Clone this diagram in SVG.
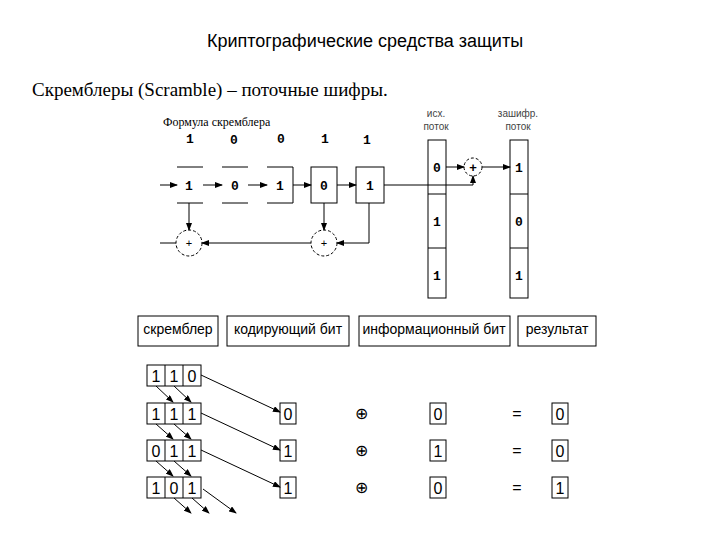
<svg xmlns="http://www.w3.org/2000/svg" width="720" height="540" viewBox="0 0 720 540">
<defs><marker id="a" markerWidth="8" markerHeight="6" refX="7" refY="3" orient="auto" markerUnits="userSpaceOnUse"><path d="M0,0L8,3L0,6z" fill="#000"/></marker></defs>
<style>
text{font-family:"Liberation Sans",Arial,sans-serif;fill:#000}
.m{font-family:"Liberation Mono","DejaVu Sans Mono",monospace;font-size:13px;font-weight:bold;text-anchor:middle}
.s{font-size:10px;text-anchor:middle;fill:#444}
.b{fill:none;stroke:#000;stroke-width:1}
.d{fill:#fff;stroke:#000;stroke-dasharray:3,2}
.c{fill:none;stroke:#000;stroke-width:1}
.ca{fill:none;stroke:#000;stroke-width:1;marker-end:url(#a)}
.h{font-size:14px;text-anchor:middle}
.t{font-size:16px;text-anchor:middle}
</style>
<rect width="720" height="540" fill="#fff"/>
<text x="365" y="47" font-size="18" text-anchor="middle">Криптографические средства защиты</text>
<text x="32" y="96" font-size="19" style="font-family:'Liberation Serif',serif">Скремблеры (Scramble) – поточные шифры.</text>
<text x="163" y="126" font-size="12" style="font-family:'Liberation Serif',serif">Формула скремблера</text>
<g id="top-bits"><text class="m" x="190" y="143">1</text><text class="m" x="234" y="144">0</text><text class="m" x="281" y="143">0</text><text class="m" x="325" y="143">1</text><text class="m" x="367" y="144">1</text></g>
<g id="registers">
<line class="b" x1="177" y1="167" x2="203" y2="167"/><line class="b" x1="177" y1="203" x2="203" y2="203"/><text class="m" x="189" y="190">1</text>
<line class="b" x1="222" y1="167" x2="248" y2="167"/><line class="b" x1="222" y1="203" x2="248" y2="203"/><text class="m" x="235" y="190">0</text>
<path class="b" d="M267,167H293V203H267"/><text class="m" x="280" y="190">1</text>
<rect class="b" x="311" y="167" width="26" height="36"/><text class="m" x="324" y="190">0</text>
<rect class="b" x="356" y="167" width="28" height="36"/><text class="m" x="370" y="190">1</text>
</g>
<g id="xor-a"><circle class="d" cx="189" cy="243" r="13"/><text x="189" y="247" font-size="11" text-anchor="middle">+</text></g>
<g id="xor-b"><circle class="d" cx="324" cy="243" r="13"/><text x="324" y="247" font-size="11" text-anchor="middle">+</text></g>
<g id="xor-c"><circle class="d" cx="473" cy="167" r="9"/><text x="473" y="172" font-size="13" font-weight="bold" text-anchor="middle">+</text></g>
<g id="src"><text class="s" x="436" y="117">исх.</text><text class="s" x="436" y="130">поток</text>
<rect class="b" x="428" y="140" width="18" height="158"/><line class="b" x1="428" y1="194" x2="446" y2="194"/><line class="b" x1="428" y1="248" x2="446" y2="248"/>
<text class="m" x="437" y="172">0</text><text class="m" x="437" y="226">1</text><text class="m" x="437" y="280">1</text></g>
<g id="dst"><text class="s" x="518" y="117">зашифр.</text><text class="s" x="518" y="130">поток</text>
<rect class="b" x="510" y="140" width="18" height="158"/><line class="b" x1="510" y1="194" x2="528" y2="194"/><line class="b" x1="510" y1="248" x2="528" y2="248"/>
<text class="m" x="519" y="172">1</text><text class="m" x="519" y="226">0</text><text class="m" x="519" y="280">1</text></g>
<g id="connectors">
<line class="ca" x1="160" y1="185" x2="177" y2="185"/>
<line class="ca" x1="203" y1="185" x2="222" y2="185"/>
<line class="ca" x1="248" y1="185" x2="267" y2="185"/>
<line class="ca" x1="293" y1="185" x2="311" y2="185"/>
<line class="ca" x1="337" y1="185" x2="356" y2="185"/>
<path class="ca" d="M384,185H473V176"/>
<line class="ca" x1="446" y1="167" x2="464" y2="167"/>
<line class="ca" x1="482" y1="167" x2="510" y2="167"/>
<line class="c" x1="160" y1="243" x2="176" y2="243"/>
<line class="ca" x1="189" y1="203" x2="189" y2="230"/>
<line class="ca" x1="324" y1="203" x2="324" y2="230"/>
<path class="ca" d="M369,203V243H337"/>
<line class="ca" x1="311" y1="243" x2="202" y2="243"/>
</g>
<g id="headers">
<rect class="b" x="138" y="316" width="80" height="30"/><text class="h" x="178" y="334">скремблер</text>
<rect class="b" x="227" y="316" width="122" height="30"/><text class="h" x="288" y="334">кодирующий бит</text>
<rect class="b" x="359" y="316" width="151" height="30"/><text class="h" x="434" y="334">информационный бит</text>
<rect class="b" x="518" y="316" width="78" height="30"/><text class="h" x="557" y="334">результат</text>
</g>
<g id="regs">
<g><rect class="b" x="147" y="365" width="54" height="21"/><line class="b" x1="165" y1="365" x2="165" y2="386"/><line class="b" x1="183" y1="365" x2="183" y2="386"/><text class="t" x="156" y="382">1</text><text class="t" x="174" y="382">1</text><text class="t" x="192" y="382">0</text></g>
<g><rect class="b" x="147" y="403" width="54" height="21"/><line class="b" x1="165" y1="403" x2="165" y2="424"/><line class="b" x1="183" y1="403" x2="183" y2="424"/><text class="t" x="156" y="420">1</text><text class="t" x="174" y="420">1</text><text class="t" x="192" y="420">1</text></g>
<g><rect class="b" x="147" y="440" width="54" height="21"/><line class="b" x1="165" y1="440" x2="165" y2="461"/><line class="b" x1="183" y1="440" x2="183" y2="461"/><text class="t" x="156" y="457">0</text><text class="t" x="174" y="457">1</text><text class="t" x="192" y="457">1</text></g>
<g><rect class="b" x="147" y="477" width="54" height="21"/><line class="b" x1="165" y1="477" x2="165" y2="498"/><line class="b" x1="183" y1="477" x2="183" y2="498"/><text class="t" x="156" y="494">1</text><text class="t" x="174" y="494">0</text><text class="t" x="192" y="494">1</text></g>
</g>
<g id="rows">
<g><rect class="b" x="280" y="403" width="16" height="21"/><text class="t" x="288" y="420">0</text><text class="t" x="361" y="419">⊕</text><rect class="b" x="430" y="403" width="16" height="21"/><text class="t" x="438" y="420">0</text><text class="t" x="517" y="419">=</text><rect class="b" x="552" y="403" width="16" height="21"/><text class="t" x="560" y="420">0</text></g>
<g><rect class="b" x="280" y="440" width="16" height="21"/><text class="t" x="288" y="457">1</text><text class="t" x="361" y="456">⊕</text><rect class="b" x="430" y="440" width="16" height="21"/><text class="t" x="438" y="457">1</text><text class="t" x="517" y="456">=</text><rect class="b" x="552" y="440" width="16" height="21"/><text class="t" x="560" y="457">0</text></g>
<g><rect class="b" x="280" y="477" width="16" height="21"/><text class="t" x="288" y="494">1</text><text class="t" x="361" y="493">⊕</text><rect class="b" x="430" y="477" width="16" height="21"/><text class="t" x="438" y="494">0</text><text class="t" x="517" y="493">=</text><rect class="b" x="552" y="477" width="16" height="21"/><text class="t" x="560" y="494">1</text></g>
</g>
<g id="connectors2" stroke-width="1.3">
<line class="ca" x1="201" y1="375" x2="280" y2="412"/>
<line class="ca" x1="201" y1="413" x2="280" y2="450"/>
<line class="ca" x1="201" y1="450" x2="280" y2="487"/>
<line class="ca" x1="156" y1="386" x2="173" y2="402"/>
<line class="ca" x1="174" y1="386" x2="191" y2="402"/>
<line class="ca" x1="156" y1="424" x2="173" y2="439"/>
<line class="ca" x1="174" y1="424" x2="191" y2="439"/>
<line class="ca" x1="156" y1="461" x2="173" y2="476"/>
<line class="ca" x1="174" y1="461" x2="191" y2="476"/>
<line class="ca" x1="174" y1="498" x2="191" y2="513"/>
<line class="ca" x1="192" y1="498" x2="209" y2="513"/>
<line class="ca" x1="203" y1="489" x2="236" y2="513"/>
</g>
</svg>
